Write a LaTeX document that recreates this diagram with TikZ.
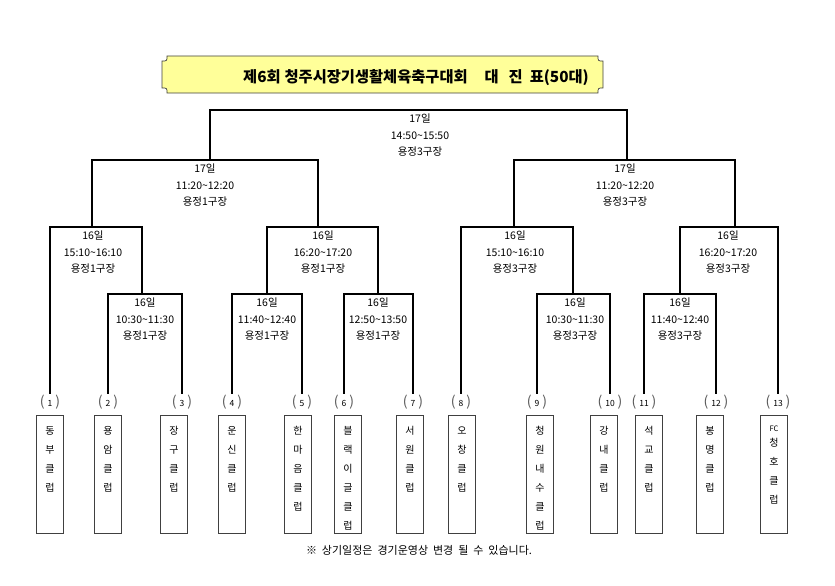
\documentclass[tikz,border=0pt]{standalone}
\usepackage{fontspec}
\setmainfont{Noto Sans CJK KR}
\usepackage{tikz}
\usepackage{xcolor}
\usetikzlibrary{positioning}

\definecolor{plaque}{RGB}{255,255,153}
\newcommand\seedno[1]{{\fontsize{14}{14}\selectfont\color{black!65}(}\hspace{3pt}#1\hspace{3pt}{\fontsize{14}{14}\selectfont\color{black!65})}}
\newcommand\vname[1]{\parbox[t][118pt][t]{19pt}{\centering\rule{0pt}{19pt}#1}}

\begin{document}
\begin{tikzpicture}[x=1pt,y=-1pt,
  bracket/.style={line width=1.7pt},
  sched/.style={font=\fontsize{10.5}{16.5}\selectfont, align=center, anchor=north, inner sep=0pt},
  seed/.style={font=\fontsize{8.5}{9}\selectfont, inner sep=1pt},
  teambox/.style={draw=black!75, line width=0.7pt, anchor=north, inner xsep=4pt, inner ysep=0pt,
    font=\fontsize{10}{19}\selectfont}]
  \useasboundingbox (0,0) rectangle (835,586);

  % title plaque
  \filldraw[fill=plaque, draw=black!75, line width=0.7pt]
    (167,56) -- (598,56) .. controls (598,61) .. (603,61) -- (603,88)
    .. controls (598,88) .. (598,93) -- (167,93) .. controls (167,88) .. (162,88)
    -- (162,61) .. controls (167,61) .. (167,56) -- cycle;
  \node[font=\fontsize{15.3}{16}\selectfont\bfseries, anchor=west, inner sep=0pt] (title) at (243,78)
    {제6회\hspace{4pt}청주시장기생활체육축구대회\hspace{17pt}대\hspace{10pt}진\hspace{7pt}표(50대)};

  % match points
  \coordinate (f)  at (420,110);
  \coordinate (sl) at (210,160);
  \coordinate (sr) at (627,160);
  \coordinate (q1) at (92,227);
  \coordinate (q2) at (318,227);
  \coordinate (q3) at (514,227);
  \coordinate (q4) at (735,227);
  \coordinate (r1) at (142,294);
  \coordinate (r2) at (267,294);
  \coordinate (r3) at (378,294);
  \coordinate (r4) at (573,294);
  \coordinate (r5) at (680,294);

  % seeds
  \node[seed] (s1)  at (50,402)  {\seedno{1}};
  \node[seed] (s2)  at (108,402) {\seedno{2}};
  \node[seed] (s3)  at (182,402) {\seedno{3}};
  \node[seed] (s4)  at (232,402) {\seedno{4}};
  \node[seed] (s5)  at (302,402) {\seedno{5}};
  \node[seed] (s6)  at (344,402) {\seedno{6}};
  \node[seed] (s7)  at (413,402) {\seedno{7}};
  \node[seed] (s8)  at (461,402) {\seedno{8}};
  \node[seed] (s9)  at (537,402) {\seedno{9}};
  \node[seed] (s10) at (610,402) {\seedno{10}};
  \node[seed] (s11) at (644,402) {\seedno{11}};
  \node[seed] (s12) at (716,402) {\seedno{12}};
  \node[seed] (s13) at (778,402) {\seedno{13}};

  % teams
  \node[teambox] (t1)  at (50,415)  {\vname{동\\부\\클\\럽}};
  \node[teambox] (t2)  at (108,415) {\vname{용\\암\\클\\럽}};
  \node[teambox] (t3)  at (174,415) {\vname{장\\구\\클\\럽}};
  \node[teambox] (t4)  at (232,415) {\vname{운\\신\\클\\럽}};
  \node[teambox] (t5)  at (298,415) {\vname{한\\마\\음\\클\\럽}};
  \node[teambox] (t6)  at (348,415) {\vname{블\\랙\\이\\글\\클\\럽}};
  \node[teambox] (t7)  at (410,415) {\vname{서\\원\\클\\럽}};
  \node[teambox] (t8)  at (462,415) {\vname{오\\창\\클\\럽}};
  \node[teambox] (t9)  at (540,415) {\vname{청\\원\\내\\수\\클\\럽}};
  \node[teambox] (t10) at (604,415) {\vname{강\\내\\클\\럽}};
  \node[teambox] (t11) at (649,415) {\vname{석\\교\\클\\럽}};
  \node[teambox] (t12) at (710,415) {\vname{봉\\명\\클\\럽}};
  \node[teambox] (t13) at (774,415)
    {\parbox[t][118pt][t]{19pt}{\centering\rule{0pt}{16pt}{\fontsize{7.5}{8}\selectfont FC}\\[-4pt]청\\호\\클\\럽}};

  % brackets
  \draw[bracket] (sl) |- (f) -| (sr);
  \draw[bracket] (q1) |- (sl) -| (q2);
  \draw[bracket] (q3) |- (sr) -| (q4);
  \draw[bracket] (s1.north) |- (q1) -| (r1);
  \draw[bracket] (r2) |- (q2) -| (r3);
  \draw[bracket] (s8.north) |- (q3) -| (r4);
  \draw[bracket] (r5) |- (q4) -| (s13.north);
  \draw[bracket] (s2.north) |- (r1) -| (s3.north);
  \draw[bracket] (s4.north) |- (r2) -| (s5.north);
  \draw[bracket] (s6.north) |- (r3) -| (s7.north);
  \draw[bracket] (s9.north) |- (r4) -| (s10.north);
  \draw[bracket] (s11.north) |- (r5) -| (s12.north);

  % schedules
  \node[sched] (lf)  at (420,114) {17일\\14:50\textasciitilde15:50\\용정3구장};
  \node[sched] (lsl) at (205,164) {17일\\11:20\textasciitilde12:20\\용정1구장};
  \node[sched] (lsr) at (625,164) {17일\\11:20\textasciitilde12:20\\용정3구장};
  \node[sched] (lq1) at (93,231)  {16일\\15:10\textasciitilde16:10\\용정1구장};
  \node[sched] (lq2) at (323,231) {16일\\16:20\textasciitilde17:20\\용정1구장};
  \node[sched] (lq3) at (515,231) {16일\\15:10\textasciitilde16:10\\용정3구장};
  \node[sched] (lq4) at (728,231) {16일\\16:20\textasciitilde17:20\\용정3구장};
  \node[sched] (lr1) at (145,298) {16일\\10:30\textasciitilde11:30\\용정1구장};
  \node[sched] (lr2) at (267,298) {16일\\11:40\textasciitilde12:40\\용정1구장};
  \node[sched] (lr3) at (378,298) {16일\\12:50\textasciitilde13:50\\용정1구장};
  \node[sched] (lr4) at (575,298) {16일\\10:30\textasciitilde11:30\\용정3구장};
  \node[sched] (lr5) at (680,298) {16일\\11:40\textasciitilde12:40\\용정3구장};

  \node[font=\fontsize{11}{12}\selectfont, inner sep=0pt] (note) at (419,550)
    {\spaceskip=0.45em ※ 상기일정은 경기운영상 변경 될 수 있습니다.};
\end{tikzpicture}
\end{document}
